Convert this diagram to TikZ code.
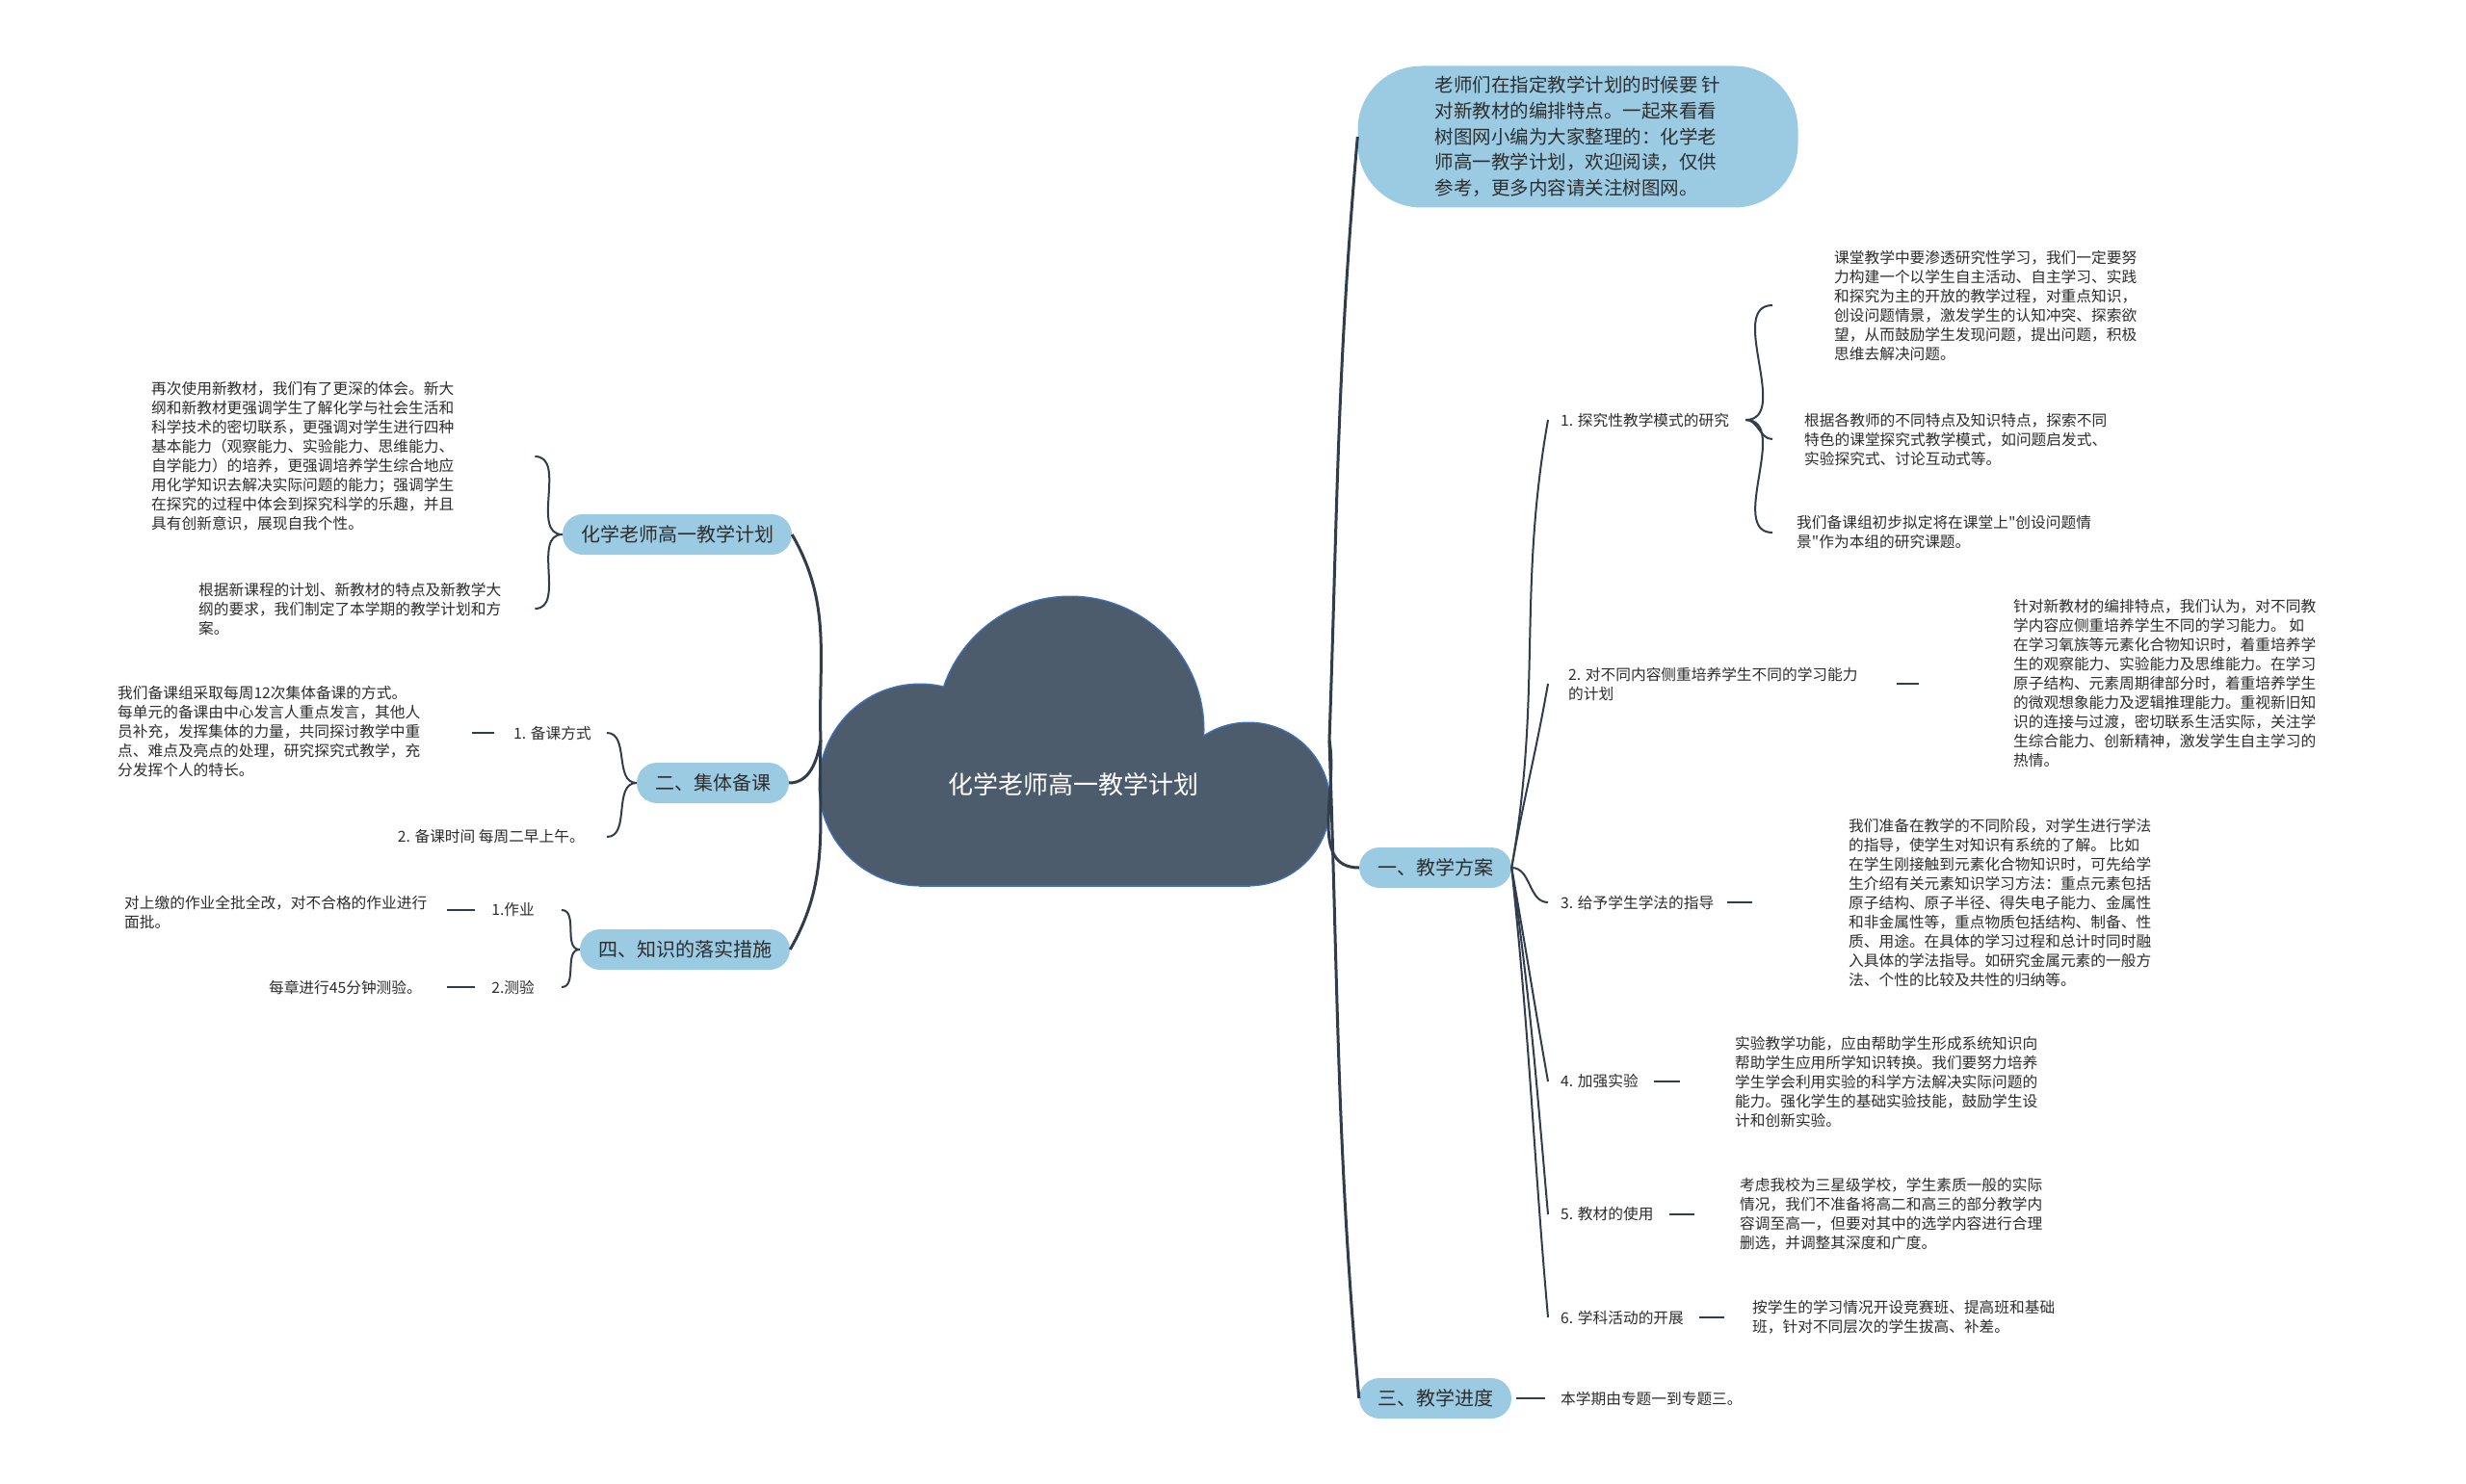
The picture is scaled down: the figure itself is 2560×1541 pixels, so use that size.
\documentclass[tikz,border=0pt]{standalone}
\usepackage{fontspec}
\newfontfamily\cjk{Noto Sans CJK SC}
\definecolor{pillblue}{RGB}{155,203,227}
\definecolor{branch}{RGB}{47,61,76}
\definecolor{cloudfill}{RGB}{76,92,109}
\definecolor{cloudline}{RGB}{62,112,178}
\definecolor{ink}{RGB}{45,45,45}
\begin{document}
\begin{tikzpicture}
  [x=1pt,y=1pt,
   pill/.style ={fill=pillblue,rounded corners=21pt,minimum height=42pt,inner xsep=19pt,text=ink,font=\cjk\fontsize{20pt}{24pt}\selectfont},
   leaf/.style ={inner sep=0pt,align=left,text=ink,font=\cjk\fontsize{15.7pt}{20pt}\selectfont},
   link/.style ={branch,line width=2pt},
   trunk/.style ={branch,line width=3pt}]
  \fill[white] (0,0) rectangle (2560,-1541);
  \useasboundingbox (0,0) rectangle (2560,-1541);

  \foreach \cx/\cy/\r in {955/-815/104,1296/-835/84,1111/-758/138}
    \draw[cloudline,line width=3pt] (\cx,\cy) circle[radius=\r];
  \draw[cloudline,line width=3pt] (955,-780) rectangle (1296,-919);
  \foreach \cx/\cy/\r in {955/-815/104,1296/-835/84,1111/-758/138}
    \fill[cloudfill] (\cx,\cy) circle[radius=\r];
  \fill[cloudfill] (955,-780) rectangle (1296,-919);
  \node[text=white,font=\cjk\fontsize{26pt}{30pt}\selectfont] (root) at (1114,-815) {化学老师高一教学计划};
  \coordinate (rootl) at (852,-769);
  \coordinate (rootr) at (1380,-769);

  \node[pill,minimum width=457pt,minimum height=147pt,rounded corners=66pt,align=left,font=\cjk\fontsize{19.5pt}{26.7pt}\selectfont] (intro) at (1638,-142) {老师们在指定教学计划的时候要 针\\对新教材的编排特点。一起来看看\\树图网小编为大家整理的：化学老\\师高一教学计划，欢迎阅读，仅供\\参考，更多内容请关注树图网。};
  \node[pill] (plan) at (1490,-901) {一、教学方案};
  \node[pill] (pace) at (1490,-1452) {三、教学进度};
  \node[pill] (aim) at (703,-555) {化学老师高一教学计划};
  \node[pill] (group) at (740,-813) {二、集体备课};
  \node[pill] (check) at (711,-986) {四、知识的落实措施};

  \draw[trunk] (rootr) to[out=88,in=-95] (intro.west);
  \draw[trunk] (rootr) to[out=-80,in=180] (plan.west);
  \draw[trunk] (rootr) to[out=-88,in=95] (pace.west);
  \draw[trunk] (rootl) to[out=92,in=-60] (aim.east);
  \draw[trunk] (rootl) to[out=-100,in=0] (group.east);
  \draw[trunk] (rootl) to[out=-92,in=60] (check.east);

  \node[leaf,anchor=west] (inquiry) at (1620,-436) {1. 探究性教学模式的研究};
  \node[leaf,anchor=west] (ability) at (1628,-710) {2. 对不同内容侧重培养学生不同的学习能力\\的计划};
  \node[leaf,anchor=west] (method) at (1620,-937) {3. 给予学生学法的指导};
  \node[leaf,anchor=west] (experiment) at (1620,-1123) {4. 加强实验};
  \node[leaf,anchor=west] (textbook) at (1620,-1261) {5. 教材的使用};
  \node[leaf,anchor=west] (activity) at (1620,-1368) {6. 学科活动的开展};
  \draw[link] (plan.east) to[out=80,in=-100] ([xshift=-13pt]inquiry.west);
  \draw[link] (plan.east) to[out=80,in=-100] ([xshift=-21pt]ability.west);
  \draw[link] (plan.east) to[out=0,in=180] ([xshift=-13pt]method.west);
  \draw[link] (plan.east) to[out=-80,in=100] ([xshift=-13pt]experiment.west);
  \draw[link] (plan.east) to[out=-82,in=95] ([xshift=-13pt]textbook.west);
  \draw[link] (plan.east) to[out=-84,in=95] ([xshift=-13pt]activity.west);

  \node[leaf,anchor=west] (inquiryA) at (1904,-317) {课堂教学中要渗透研究性学习，我们一定要努\\力构建一个以学生自主活动、自主学习、实践\\和探究为主的开放的教学过程，对重点知识，\\创设问题情景，激发学生的认知冲突、探索欲\\望，从而鼓励学生发现问题，提出问题，积极\\思维去解决问题。};
  \node[leaf,anchor=west] (inquiryB) at (1873,-456) {根据各教师的不同特点及知识特点，探索不同\\特色的课堂探究式教学模式，如问题启发式、\\实验探究式、讨论互动式等。};
  \node[leaf,anchor=west] (inquiryC) at (1865,-553) {我们备课组初步拟定将在课堂上"创设问题情\\景"作为本组的研究课题。};
  \draw[link] ([xshift=17pt]inquiry.east) to[out=0,in=180] ([xshift=-64pt]inquiryA.west);
  \draw[link] ([xshift=17pt]inquiry.east) to[out=0,in=180] ([xshift=-33pt]inquiryB.west);
  \draw[link] ([xshift=17pt]inquiry.east) to[out=0,in=180] ([xshift=-25pt]inquiryC.west);

  \node[leaf,anchor=west] (abilityT) at (2090,-710) {针对新教材的编排特点，我们认为，对不同教\\学内容应侧重培养学生不同的学习能力。 如\\在学习氧族等元素化合物知识时，着重培养学\\生的观察能力、实验能力及思维能力。在学习\\原子结构、元素周期律部分时，着重培养学生\\的微观想象能力及逻辑推理能力。重视新旧知\\识的连接与过渡，密切联系生活实际，关注学\\生综合能力、创新精神，激发学生自主学习的\\热情。};
  \node[leaf,anchor=west] (methodT) at (1919,-937) {我们准备在教学的不同阶段，对学生进行学法\\的指导，使学生对知识有系统的了解。 比如\\在学生刚接触到元素化合物知识时，可先给学\\生介绍有关元素知识学习方法：重点元素包括\\原子结构、原子半径、得失电子能力、金属性\\和非金属性等，重点物质包括结构、制备、性\\质、用途。在具体的学习过程和总计时同时融\\入具体的学法指导。如研究金属元素的一般方\\法、个性的比较及共性的归纳等。};
  \node[leaf,anchor=west] (experimentT) at (1801,-1123) {实验教学功能，应由帮助学生形成系统知识向\\帮助学生应用所学知识转换。我们要努力培养\\学生学会利用实验的科学方法解决实际问题的\\能力。强化学生的基础实验技能，鼓励学生设\\计和创新实验。};
  \node[leaf,anchor=west] (textbookT) at (1806,-1261) {考虑我校为三星级学校，学生素质一般的实际\\情况，我们不准备将高二和高三的部分教学内\\容调至高一，但要对其中的选学内容进行合理\\删选，并调整其深度和广度。};
  \node[leaf,anchor=west] (activityT) at (1819,-1368) {按学生的学习情况开设竞赛班、提高班和基础\\班，针对不同层次的学生拔高、补差。};
  \node[leaf,anchor=west] (paceT) at (1620,-1452) {本学期由专题一到专题三。};
  \draw[link,shorten <=40pt,shorten >=98pt] (ability.east) -- (ability.east -| abilityT.west);
  \draw[link,shorten <=14pt,shorten >=100pt] (method.east) -- (method.east -| methodT.west);
  \draw[link,shorten <=16pt,shorten >=57pt] (experiment.east) -- (experiment.east -| experimentT.west);
  \draw[link,shorten <=16pt,shorten >=47pt] (textbook.east) -- (textbook.east -| textbookT.west);
  \draw[link,shorten <=16pt,shorten >=29pt] (activity.east) -- (activity.east -| activityT.west);
  \draw[link,shorten <=5pt,shorten >=16pt] (pace.east) -- (pace.east -| paceT.west);

  \node[leaf,anchor=west] (aimA) at (157,-474) {再次使用新教材，我们有了更深的体会。新大\\纲和新教材更强调学生了解化学与社会生活和\\科学技术的密切联系，更强调对学生进行四种\\基本能力（观察能力、实验能力、思维能力、\\自学能力）的培养，更强调培养学生综合地应\\用化学知识去解决实际问题的能力；强调学生\\在探究的过程中体会到探究科学的乐趣，并且\\具有创新意识，展现自我个性。};
  \node[leaf,anchor=west] (aimB) at (206,-632) {根据新课程的计划、新教材的特点及新教学大\\纲的要求，我们制定了本学期的教学计划和方\\案。};
  \draw[link] (aim.west) to[out=180,in=0] ([xshift=84pt]aimA.east);
  \draw[link] (aim.west) to[out=180,in=0] ([xshift=35pt]aimB.east);

  \node[leaf,anchor=east] (way) at (614,-761) {1. 备课方式};
  \node[leaf,anchor=west] (wayT) at (122,-760) {我们备课组采取每周12次集体备课的方式。\\每单元的备课由中心发言人重点发言，其他人\\员补充，发挥集体的力量，共同探讨教学中重\\点、难点及亮点的处理，研究探究式教学，充\\分发挥个人的特长。};
  \node[leaf,anchor=east] (time) at (607,-869) {2. 备课时间 每周二早上午。};
  \draw[link] (group.west) to[out=180,in=0] ([xshift=16pt]way.east);
  \draw[link] (group.west) to[out=180,in=0] ([xshift=23pt]time.east);
  \draw[link,shorten <=20pt,shorten >=54pt] (way.west) -- (way.west -| wayT.east);

  \node[leaf,anchor=east] (work) at (555,-945) {1.作业};
  \node[leaf,anchor=west] (workT) at (129,-947) {对上缴的作业全批全改，对不合格的作业进行\\面批。};
  \node[leaf,anchor=east] (test) at (555,-1025) {2.测验};
  \node[leaf,anchor=east] (testT) at (438,-1025) {每章进行45分钟测验。};
  \draw[link] (check.west) to[out=180,in=0] ([xshift=28pt]work.east);
  \draw[link] (check.west) to[out=180,in=0] ([xshift=28pt]test.east);
  \draw[link,shorten <=17pt,shorten >=21pt] (work.west) -- (work.west -| workT.east);
  \draw[link,shorten <=17pt,shorten >=26pt] (test.west) -- (test.west -| testT.east);
\end{tikzpicture}
\end{document}
